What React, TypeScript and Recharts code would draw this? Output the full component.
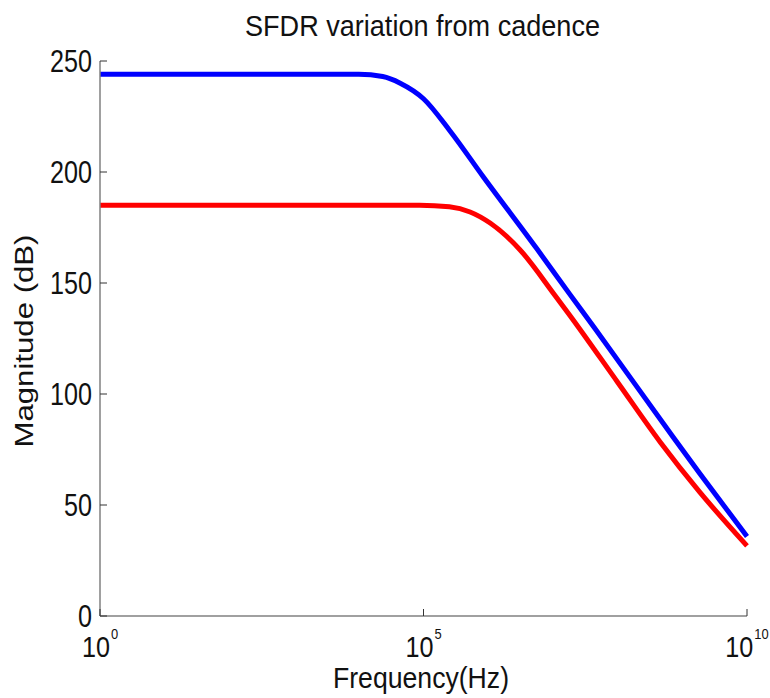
import React from "react";
import { LineChart, Line, XAxis, YAxis } from "recharts";

// x values are log10(frequency in Hz)
const blueLogFreq = [0, 2, 4, 4.37, 4.64, 5.0, 5.41, 5.92, 6.75, 7.26, 7.65, 8.86, 9.27, 10];
const blueValues = [244, 244, 244, 243, 240, 233, 218.5, 198, 165.5, 145, 129.5, 80.5, 64.2, 35.8];
const redLogFreq = [0, 2, 4, 4.94, 5.4, 5.72, 6.03, 6.49, 7.03, 7.26, 8.0, 8.66, 9.27, 10];
const redValues = [185, 185, 185, 185, 184.3, 182, 177, 165, 144.5, 135.5, 105.3, 78.3, 55.8, 31.6];
const xTicks = [0, 5, 10];
const yTicks = [0, 50, 100, 150, 200, 250];

const blueData = blueLogFreq.map((f, i) => ({ f, v: blueValues[i] }));
const redData = redLogFreq.map((f, i) => ({ f, v: redValues[i] }));

const W = 770;
const H = 698;
const FONT = "'Liberation Sans', Arial, Helvetica, sans-serif";
const TICK_LEN = 7;
const TICK_COLOR = "#333";
const BOX_COLOR = "#808080";

const BottomTick = (props: any) => {
  const { x, y, payload } = props;
  const exp = String(payload.value);
  const mainW = 28;
  const supW = exp.length * 7.2;
  const total = mainW + 1 + supW;
  const start = x - total / 2;
  return (
    <g>
      <line x1={x} x2={x} y1={y} y2={y - TICK_LEN} stroke={TICK_COLOR} strokeWidth={1} />
      <text x={start} y={y + 40.5} fontSize={30} fontFamily={FONT} fill="#111">
        <tspan textLength={mainW} lengthAdjust="spacingAndGlyphs">10</tspan>
        <tspan x={start + mainW + 1} dy={-18} fontSize={15} textLength={supW} lengthAdjust="spacingAndGlyphs">
          {exp}
        </tspan>
      </text>
    </g>
  );
};

const TopTick = (props: any) => {
  const { x, y } = props;
  return <line x1={x} x2={x} y1={y} y2={y + TICK_LEN} stroke={TICK_COLOR} strokeWidth={1} />;
};

const LeftTick = (props: any) => {
  const { x, y, payload } = props;
  const label = String(payload.value);
  return (
    <g>
      <line x1={x} x2={x + TICK_LEN} y1={y} y2={y} stroke={TICK_COLOR} strokeWidth={1} />
      <text x={x - 8} y={y + 11} fontSize={31} fontFamily={FONT} fill="#111" textAnchor="end" textLength={label.length * 14} lengthAdjust="spacingAndGlyphs">
        {label}
      </text>
    </g>
  );
};

const RightTick = (props: any) => {
  const { x, y } = props;
  return <line x1={x} x2={x - TICK_LEN} y1={y} y2={y} stroke={TICK_COLOR} strokeWidth={1} />;
};

export default function App() {
  return (
    <div style={{ position: "fixed", left: 0, top: 0, width: W, height: H, overflow: "hidden", background: "#fff" }}>
      <LineChart width={W} height={H} margin={{ top: 61, right: 23, bottom: 0, left: 0 }}>
        <XAxis
          dataKey="f"
          type="number"
          domain={[0, 10]}
          ticks={xTicks}
          interval={0}
          height={82}
          tickSize={0}
          tickMargin={0}
          tickLine={false}
          axisLine={{ stroke: BOX_COLOR, strokeWidth: 1.5 }}
          tick={<BottomTick />}
        />
        <XAxis
          xAxisId="top"
          orientation="top"
          type="number"
          domain={[0, 10]}
          ticks={xTicks}
          interval={0}
          height={0}
          tickSize={0}
          tickMargin={0}
          tickLine={false}
          axisLine={{ stroke: BOX_COLOR, strokeWidth: 1.5 }}
          tick={<TopTick />}
        />
        <YAxis
          type="number"
          domain={[0, 250]}
          ticks={yTicks}
          interval={0}
          width={100}
          tickSize={0}
          tickMargin={0}
          tickLine={false}
          axisLine={{ stroke: BOX_COLOR, strokeWidth: 1.5 }}
          tick={<LeftTick />}
        />
        <YAxis
          yAxisId="right"
          orientation="right"
          type="number"
          domain={[0, 250]}
          ticks={yTicks}
          interval={0}
          width={0}
          tickSize={0}
          tickMargin={0}
          tickLine={false}
          axisLine={{ stroke: BOX_COLOR, strokeWidth: 1.5 }}
          tick={<RightTick />}
        />
        <Line data={redData} dataKey="v" name="red" type="monotone" stroke="#ff0000" strokeWidth={5} dot={false} isAnimationActive={false} />
        <Line data={blueData} dataKey="v" name="blue" type="monotone" stroke="#0000ff" strokeWidth={5} dot={false} isAnimationActive={false} />
      </LineChart>
      <svg width={W} height={H} style={{ position: "absolute", left: 0, top: 0, pointerEvents: "none" }}>
        <text x={422.5} y={36} fontSize={29} fontFamily={FONT} fill="#111" textAnchor="middle" textLength={355} lengthAdjust="spacingAndGlyphs">
          SFDR variation from cadence
        </text>
        <text x={421} y={688} fontSize={29} fontFamily={FONT} fill="#111" textAnchor="middle" textLength={176} lengthAdjust="spacingAndGlyphs">
          Frequency(Hz)
        </text>
        <text
          x={33}
          y={341}
          fontSize={25}
          fontFamily={FONT}
          fill="#111"
          textAnchor="middle"
          textLength={213}
          lengthAdjust="spacingAndGlyphs"
          transform="rotate(-90, 33, 341)"
        >
          Magnitude (dB)
        </text>
      </svg>
    </div>
  );
}
